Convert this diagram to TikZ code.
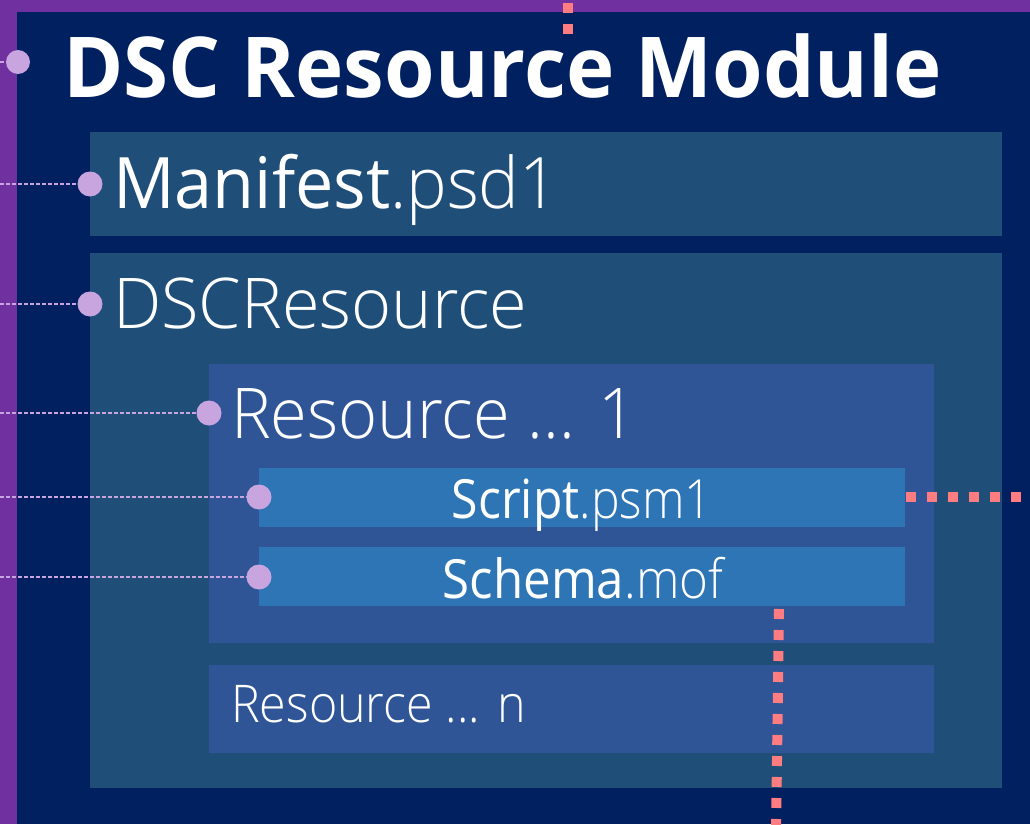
\documentclass[tikz,border=0pt]{standalone}
\usepackage{fontspec}
\setmainfont{Open Sans}
\newfontfamily\oslight{Open Sans Light}
\newfontfamily\osbold{Open Sans Bold}
\definecolor{purp}{HTML}{7030A0}
\definecolor{navy}{HTML}{002060}
\definecolor{boxa}{HTML}{1F4E79}
\definecolor{boxb}{HTML}{2F5597}
\definecolor{boxc}{HTML}{2E75B6}
\definecolor{lav}{HTML}{C9A5E0}
\definecolor{redd}{HTML}{FF7C80}
\tikzset{
  panel/.style={fill=#1, draw=none},
  pin/.style={circle, fill=lav, draw=none, inner sep=0pt, minimum size=25pt},
  lead/.style={draw=lav, line width=1.3pt, dash pattern=on 4pt off 2pt},
  reddots/.style={draw=redd, line width=10pt, dash pattern=on 10pt off 11pt},
  txt/.style={text=white, inner sep=0pt, anchor=base west},
}
\begin{document}
\begin{tikzpicture}[x=1pt,y=-1pt]
\useasboundingbox (0,0) rectangle (1030,824);
\fill[purp] (0,0) rectangle (1030,824);
\fill[navy] (17,12) rectangle (1030,824);
% boxes
\fill[boxa] (90,132) rectangle (1002,236);
\fill[boxa] (90,253) rectangle (1002,788);
\fill[boxb] (209,364) rectangle (934,643);
\fill[boxb] (209,665) rectangle (934,753);
\fill[boxc] (259,468) rectangle (905,527);
\fill[boxc] (259,547) rectangle (905,606);
% red dotted lines
\coordinate (rt0) at (568,3);
\coordinate (rt1) at (568,40);
\draw[reddots] (rt0) -- (rt1);
\coordinate (rh0) at (906,497);
\coordinate (rh1) at (1040,497);
\draw[reddots] (rh0) -- (rh1);
\coordinate (rv0) at (779,609);
\coordinate (rv1) at (776,835);
\draw[reddots] (rv0) -- (rv1);
% texts
\node[txt] (title) at (63,98) {\scalebox{0.972}[1]{\osbold\fontsize{84}{84}\selectfont DSC Resource Module}};
\node[txt] (man) at (113,208) {\scalebox{0.962}[1]{\fontsize{71}{71}\selectfont Manifest\oslight .psd1}};
\node[txt] (dscr) at (113,328) {\scalebox{0.978}[1]{\oslight\fontsize{70}{70}\selectfont DSCResource}};
\node[txt] (res1) at (231,438) {\scalebox{0.954}[1]{\oslight\fontsize{70}{70}\selectfont Resource ... 1}};
\node[txt, anchor=base] (scr) at (582,518) {\scalebox{0.892}[1]{\fontsize{54}{54}\selectfont Script\oslight .psm1}};
\node[txt, anchor=base] (sch) at (583,598) {\scalebox{0.912}[1]{\fontsize{54}{54}\selectfont Schema\oslight .mof}};
\node[txt] (resn) at (231,722) {\scalebox{0.93}[1]{\oslight\fontsize{52}{52}\selectfont Resource ... n}};
% pins and leads
\coordinate (l0) at (0,62);
\coordinate (l1) at (0,184);
\coordinate (l2) at (0,304);
\coordinate (l3) at (0,413);
\coordinate (l4) at (0,497);
\coordinate (l5) at (0,577);
\node[pin, minimum size=24pt] (p0) at (18,62) {};
\node[pin] (p1) at (90,184) {};
\node[pin] (p2) at (90,304) {};
\node[pin] (p3) at (209,413) {};
\node[pin] (p4) at (259,497) {};
\node[pin] (p5) at (259,577) {};
\draw[lead] (l0) -- (p0);
\draw[lead] (l1) -- (p1);
\draw[lead] (l2) -- (p2);
\draw[lead] (l3) -- (p3);
\draw[lead] (l4) -- (p4);
\draw[lead] (l5) -- (p5);
\end{tikzpicture}
\end{document}
